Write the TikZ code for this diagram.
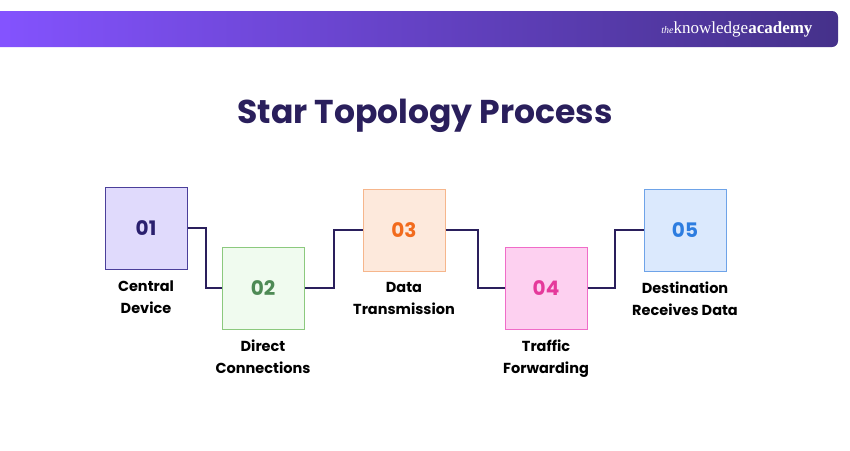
\documentclass[tikz,border=0pt]{standalone}
\usepackage{fontspec}
\setmainfont{Poppins}
\newfontfamily\logofont{Liberation Serif}
\usetikzlibrary{positioning}
\definecolor{navy}{HTML}{2A1F5C}
\definecolor{barL}{HTML}{8453FF}
\definecolor{barR}{HTML}{45318A}

\tikzset{
  stepbox/.style={draw, line width=1pt, minimum size=82pt, inner sep=0pt,
    font=\fontsize{20}{24}\selectfont\bfseries},
  lbl/.style={align=center, font=\fontsize{14.5}{22}\selectfont\bfseries, text=black},
  link/.style={draw=navy, line width=2pt}
}

\begin{document}
\begin{tikzpicture}[x=1pt,y=-1pt]
  \useasboundingbox (0,0) rectangle (850,450);

  % header bar
  \shade[left color=barL, right color=barR, rounded corners=6pt]
    (-10,11) rectangle (838,47);
  \fill[barL] (-10,11) rectangle (10,47);
  \node[anchor=east, text=white, font=\logofont\fontsize{17}{20}\selectfont] (logo) at (816,29)
    {{\itshape\fontsize{10}{11}\selectfont the}knowledge\textbf{academy}};

  % title
  \node[text=navy, font=\fontsize{33}{38}\selectfont\bfseries] (title) at (425,116) {Star Topology Process};

  % the five steps
  \node[stepbox, fill={rgb,255:red,224;green,218;blue,252}, draw={rgb,255:red,75;green,63;blue,154}, text={rgb,255:red,42;green,31;blue,110}] (s1) at (146,228) {01};
  \node[stepbox, fill={rgb,255:red,240;green,251;blue,239}, draw={rgb,255:red,140;green,201;blue,126}, text={rgb,255:red,78;green,138;blue,85}] (s2) at (263,288) {02};
  \node[stepbox, fill={rgb,255:red,253;green,233;blue,220}, draw={rgb,255:red,246;green,182;blue,140}, text={rgb,255:red,242;green,107;blue,29}] (s3) at (404,230) {03};
  \node[stepbox, fill={rgb,255:red,253;green,208;blue,240}, draw={rgb,255:red,240;green,108;blue,200}, text={rgb,255:red,229;green,57;blue,155}] (s4) at (546,288) {04};
  \node[stepbox, fill={rgb,255:red,219;green,233;blue,253}, draw={rgb,255:red,110;green,163;blue,232}, text={rgb,255:red,45;green,125;blue,224}] (s5) at (685,230) {05};

  % labels
  \node[lbl, below=8pt of s1] (l1) {Central\\Device};
  \node[lbl, below=7pt of s2] (l2) {Direct\\Connections};
  \node[lbl, below=7pt of s3] (l3) {Data\\Transmission};
  \node[lbl, below=7pt of s4] (l4) {Traffic\\Forwarding};
  \node[lbl, below=7pt of s5] (l5) {Destination\\Receives Data};

  % connectors
  \draw[link] (s1.east) -- ++(18,0) |- (s2.west);
  \draw[link] (s2.east) -- ++(29,0) |- (s3.west);
  \draw[link] (s3.east) -- ++(32,0) |- (s4.west);
  \draw[link] (s4.east) -- ++(27,0) |- (s5.west);
\end{tikzpicture}
\end{document}
